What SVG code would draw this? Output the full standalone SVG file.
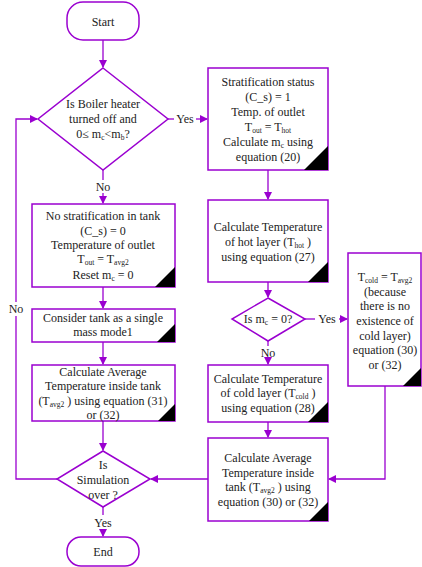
<svg xmlns="http://www.w3.org/2000/svg" width="422" height="567" viewBox="0 0 422 567">
<defs>
<style>
.sh{fill:#fff;stroke:#9a00d0;stroke-width:1.5}
.ln{fill:none;stroke:#9a00d0;stroke-width:1.3}
.tri{fill:#000}
text{font-family:"Liberation Serif","Times New Roman",serif;font-size:12px;fill:#222;text-anchor:middle}
.s{font-size:7.5px}
</style>
<marker id="ah" markerWidth="8" markerHeight="8" refX="7" refY="4" orient="auto" markerUnits="userSpaceOnUse">
<path d="M0,0 L8,4 L0,8 z" fill="#9a00d0"/>
</marker>
</defs>
<rect width="422" height="567" fill="#fff"/>
<g id="connectors">
<line class="ln" x1="103" y1="40" x2="103" y2="67" marker-end="url(#ah)"/>
<line class="ln" x1="168" y1="119" x2="174" y2="119"/>
<line class="ln" x1="196" y1="119" x2="207" y2="119" marker-end="url(#ah)"/>
<line class="ln" x1="103" y1="170" x2="103" y2="180"/>
<line class="ln" x1="103" y1="193" x2="103" y2="203" marker-end="url(#ah)"/>
<line class="ln" x1="103" y1="287" x2="103" y2="308" marker-end="url(#ah)"/>
<line class="ln" x1="103" y1="342" x2="103" y2="364" marker-end="url(#ah)"/>
<line class="ln" x1="103" y1="421" x2="103" y2="450" marker-end="url(#ah)"/>
<line class="ln" x1="103" y1="507" x2="103" y2="515"/>
<line class="ln" x1="103" y1="529" x2="103" y2="536" marker-end="url(#ah)"/>
<polyline class="ln" points="57,479 16,479 16,316"/>
<polyline class="ln" points="16,302 16,119 37,119" marker-end="url(#ah)"/>
<line class="ln" x1="268" y1="170" x2="268" y2="199" marker-end="url(#ah)"/>
<line class="ln" x1="268" y1="282" x2="268" y2="297" marker-end="url(#ah)"/>
<line class="ln" x1="305" y1="319" x2="315" y2="319"/>
<line class="ln" x1="339" y1="319" x2="347" y2="319" marker-end="url(#ah)"/>
<line class="ln" x1="268" y1="341" x2="268" y2="346"/>
<line class="ln" x1="268" y1="359" x2="268" y2="364" marker-end="url(#ah)"/>
<line class="ln" x1="268" y1="422" x2="268" y2="437" marker-end="url(#ah)"/>
<polyline class="ln" points="385,386 385,479 329,479" marker-end="url(#ah)"/>
<line class="ln" x1="208" y1="479" x2="151" y2="479" marker-end="url(#ah)"/>
<text x="185" y="123">Yes</text>
<text x="103" y="191">No</text>
<text x="16" y="313">No</text>
<text x="327" y="323">Yes</text>
<text x="268" y="357">No</text>
<text x="103" y="527">Yes</text>
</g>
<g id="start">
<rect class="sh" x="67" y="2" width="72" height="38" rx="16"/>
<text x="103" y="26">Start</text>
</g>
<g id="d1">
<polygon class="sh" points="103,68 168,119 103,170 38,119"/>
<text x="103" y="108">Is Boiler heater</text>
<text x="103" y="123">turned off  and</text>
<text x="103" y="138">0≤ m<tspan class="s" dy="2">c</tspan><tspan dy="-2">&lt;m</tspan><tspan class="s" dy="2">b</tspan><tspan dy="-2">?</tspan></text>
</g>
<g id="b1">
<rect class="sh" x="208" y="68" width="120" height="102"/>
<polygon class="tri" points="304,170 328,170 328,146"/>
<text x="268" y="86">Stratification status</text>
<text x="268" y="101">(C_s) = 1</text>
<text x="268" y="116">Temp. of outlet</text>
<text x="268" y="131">T<tspan class="s" dy="2">out</tspan><tspan dy="-2"> = T</tspan><tspan class="s" dy="2">hot</tspan></text>
<text x="268" y="146">Calculate m<tspan class="s" dy="2">c</tspan><tspan dy="-2"> using</tspan></text>
<text x="268" y="161">equation (20)</text>
</g>
<g id="b2">
<rect class="sh" x="208" y="200" width="120" height="82"/>
<polygon class="tri" points="308,282 328,282 328,262"/>
<text x="268" y="231">Calculate Temperature</text>
<text x="268" y="246">of hot layer  (T<tspan class="s" dy="2">hot</tspan><tspan dy="-2"> )</tspan></text>
<text x="268" y="261">using equation (27)</text>
</g>
<g id="d2">
<polygon class="sh" points="268,298 305,319 268,341 232,319"/>
<text x="268" y="323">Is m<tspan class="s" dy="2">c</tspan><tspan dy="-2"> = 0?</tspan></text>
</g>
<g id="b3">
<rect class="sh" x="348" y="253" width="73" height="133"/>
<polygon class="tri" points="403,386 421,386 421,368"/>
<text x="385" y="281">T<tspan class="s" dy="2">cold</tspan><tspan dy="-2"> = T</tspan><tspan class="s" dy="2">avg2</tspan></text>
<text x="385" y="296">(because</text>
<text x="385" y="310">there is no</text>
<text x="385" y="325">existence of</text>
<text x="385" y="340">cold layer)</text>
<text x="385" y="354">equation (30)</text>
<text x="385" y="369">or (32)</text>
</g>
<g id="b4">
<rect class="sh" x="208" y="365" width="120" height="57"/>
<polygon class="tri" points="308,422 328,422 328,402"/>
<text x="268" y="383">Calculate Temperature</text>
<text x="268" y="397">of cold layer (T<tspan class="s" dy="2">cold</tspan><tspan dy="-2"> )</tspan></text>
<text x="268" y="412">using equation (28)</text>
</g>
<g id="b5">
<rect class="sh" x="208" y="438" width="120" height="83"/>
<polygon class="tri" points="309,521 328,521 328,502"/>
<text x="268" y="462">Calculate Average</text>
<text x="268" y="477">Temperature inside</text>
<text x="268" y="491">tank (T<tspan class="s" dy="2">avg2</tspan><tspan dy="-2"> ) using</tspan></text>
<text x="268" y="506">equation (30) or (32)</text>
</g>
<g id="l1">
<rect class="sh" x="32" y="204" width="143" height="83"/>
<polygon class="tri" points="155,287 175,287 175,267"/>
<text x="103" y="220">No stratification in tank</text>
<text x="103" y="235">(C_s) = 0</text>
<text x="103" y="249">Temperature of outlet</text>
<text x="103" y="263">T<tspan class="s" dy="2">out</tspan><tspan dy="-2"> = T</tspan><tspan class="s" dy="2">avg2</tspan></text>
<text x="103" y="279">Reset m<tspan class="s" dy="2">c</tspan><tspan dy="-2"> = 0</tspan></text>
</g>
<g id="l2">
<rect class="sh" x="32" y="309" width="143" height="33"/>
<polygon class="tri" points="157,342 175,342 175,324"/>
<text x="103" y="322">Consider tank as a single</text>
<text x="103" y="336">mass mode1</text>
</g>
<g id="l3">
<rect class="sh" x="32" y="365" width="143" height="56"/>
<polygon class="tri" points="158,421 175,421 175,404"/>
<text x="103" y="376">Calculate Average</text>
<text x="103" y="390">Temperature inside tank</text>
<text x="103" y="405">(T<tspan class="s" dy="2">avg2</tspan><tspan dy="-2"> ) using equation (31)</tspan></text>
<text x="103" y="419">or (32)</text>
</g>
<g id="d3">
<polygon class="sh" points="103,451 150,479 103,507 57,479"/>
<text x="103" y="469">Is</text>
<text x="103" y="484">Simulation</text>
<text x="103" y="499">over ?</text>
</g>
<g id="end">
<rect class="sh" x="67" y="537" width="72" height="29" rx="14"/>
<text x="103" y="556">End</text>
</g>
</svg>
